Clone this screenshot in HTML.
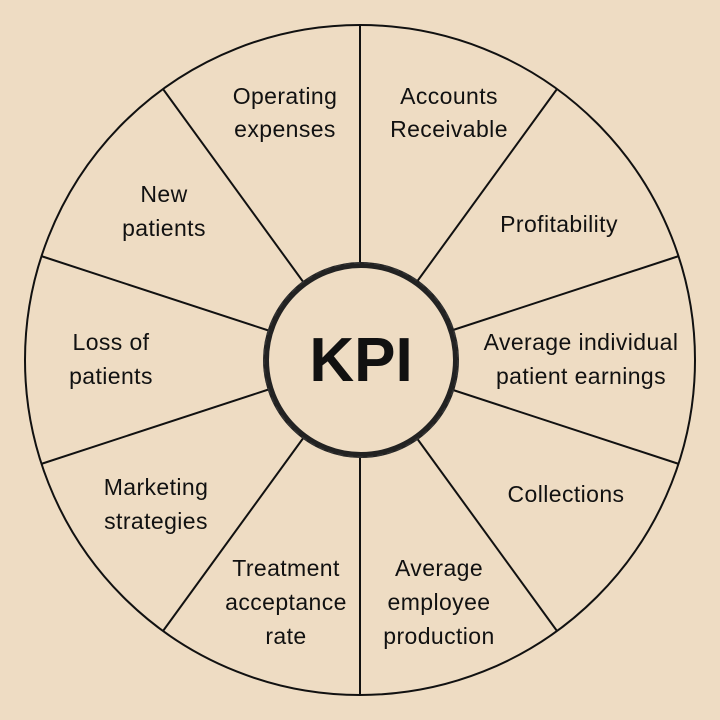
<!DOCTYPE html>
<html><head><meta charset="utf-8"><style>
html,body{margin:0;padding:0;background:#eedcc3;}
svg{display:block}
text{font-family:"Liberation Sans",sans-serif;font-size:23px;letter-spacing:0.4px;fill:#111;text-anchor:middle}
</style></head><body>
<svg width="720" height="720" viewBox="0 0 720 720">
<rect width="720" height="720" fill="#eedcc3"/>
<circle cx="360" cy="360" r="335" fill="none" stroke="#111" stroke-width="2"/>
<g stroke="#111" stroke-width="2">
<line x1="360" y1="25" x2="360" y2="265"/>
<line x1="360" y1="455" x2="360" y2="695"/>
<line x1="557" y1="89" x2="416" y2="283"/>
<line x1="163" y1="631" x2="304" y2="437"/>
<line x1="679" y1="256" x2="450" y2="331"/>
<line x1="41" y1="464" x2="270" y2="389"/>
<line x1="679" y1="464" x2="450" y2="389"/>
<line x1="41" y1="256" x2="270" y2="331"/>
<line x1="557" y1="631" x2="416" y2="437"/>
<line x1="163" y1="89" x2="304" y2="283"/>
</g>
<circle cx="361" cy="360" r="95" fill="#eedcc3" stroke="#222" stroke-width="6"/>
<circle cx="361" cy="360" r="97" fill="none" stroke="#333" stroke-width="1.5" stroke-dasharray="6 4"/>
<text x="361" y="381" style="font-size:62px;font-weight:bold;letter-spacing:0">KPI</text>
<text x="285" y="104">Operating</text><text x="285" y="137">expenses</text>
<text x="449" y="104">Accounts</text><text x="449" y="137">Receivable</text>
<text x="164" y="202">New</text><text x="164" y="236">patients</text>
<text x="559" y="232">Profitability</text>
<text x="111" y="350">Loss of</text><text x="111" y="384">patients</text>
<text x="581" y="350">Average individual</text><text x="581" y="384">patient earnings</text>
<text x="156" y="495">Marketing</text><text x="156" y="529">strategies</text>
<text x="566" y="502">Collections</text>
<text x="286" y="576">Treatment</text><text x="286" y="610">acceptance</text><text x="286" y="644">rate</text>
<text x="439" y="576">Average</text><text x="439" y="610">employee</text><text x="439" y="644">production</text>
</svg>
</body></html>
